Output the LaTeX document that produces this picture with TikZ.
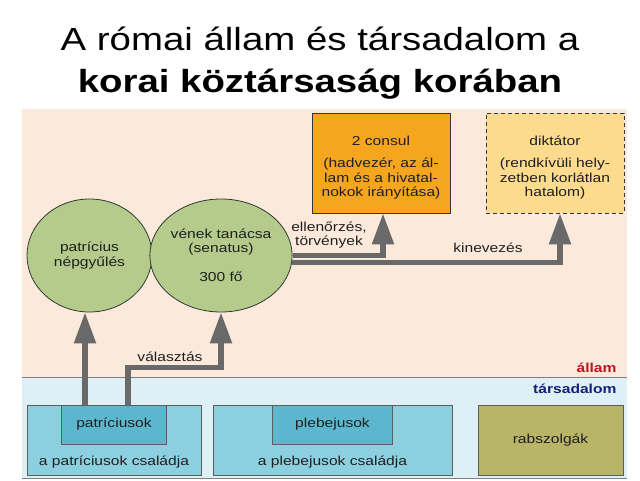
\documentclass[tikz,border=0pt]{standalone}
\usepackage{fontspec}
\setmainfont[FakeStretch=1.2]{Liberation Sans}
\usepackage{tikz}
\usetikzlibrary{positioning,calc,arrows.meta,shapes.geometric}

\definecolor{barack}{RGB}{251,234,219}
\definecolor{egkek}{RGB}{222,240,246}
\definecolor{zold}{RGB}{180,203,140}
\definecolor{narancs}{RGB}{246,166,30}
\definecolor{sarga}{RGB}{253,219,142}
\definecolor{kekkulso}{RGB}{140,207,222}
\definecolor{kekbelso}{RGB}{92,183,206}
\definecolor{oliva}{RGB}{184,181,104}
\definecolor{nyilszurke}{RGB}{105,105,105}
\definecolor{keret}{RGB}{50,55,50}
\definecolor{allampiros}{RGB}{190,20,30}
\definecolor{tarskek}{RGB}{25,30,120}

\begin{document}
\begin{tikzpicture}[x=1pt,y=-1pt,
  szoveg/.style={font=\fontsize{13}{14.5}\selectfont, text=black!88, align=center},
  cim/.style={font=\fontsize{32}{40}\selectfont, anchor=base},
  kor/.style={szoveg, ellipse, draw=keret, fill=zold, line width=0.8pt,
    minimum width=125, minimum height=113, inner sep=0pt},
  doboz/.style={szoveg, draw=keret, line width=0.8pt, minimum width=138, minimum height=100},
  csaladdoboz/.style={draw=keret!80, fill=kekkulso, line width=0.8pt, minimum height=70},
  tagdoboz/.style={szoveg, draw=keret!80, fill=kekbelso, line width=0.8pt, minimum height=39, anchor=north},
  cso/.style={draw=nyilszurke, line width=5.5pt, -{Triangle[width=21pt,length=31pt]}}
]
\useasboundingbox (0,0) rectangle (640,480);

% hatter: allam es tarsadalom
\fill[barack] (22,109) rectangle (627,377);
\fill[egkek] (22,377) rectangle (627,478);
\draw[gray, line width=1pt] (22,377) -- (627,377);
\draw[gray, line width=1pt] (22,478) -- (627,478);

% cim
\node[cim] (cim1) at (320,50) {A római állam és társadalom a};
\node[cim, font=\bfseries\fontsize{32}{40}\selectfont] (cim2) at (320,92) {korai köztársaság korában};

% allam
\node[kor] (nepgyules) at (89.5,255.5) {patrícius\\népgyűlés};
\node[kor] (senatus) at (221,255.5) {vének tanácsa\\(senatus)\\[14.5pt]300 fő};
\node[doboz, fill=narancs] (consul) at (381,163)
    {\rule{0pt}{19pt}2 consul\\[8pt](hadvezér, az ál-\\lam és a hivatal-\\nokok irányítása)};
\node[doboz, fill=sarga, dash pattern=on 4pt off 3pt] (diktator) at (555,163)
    {\rule{0pt}{19pt}diktátor\\[8pt](rendkívüli hely-\\zetben korlátlan\\hatalom)};

% tarsadalom
\foreach \nev/\x/\w/\wb/\tag/\csal in {P/114/174/105/patríciusok/a patríciusok családja,
                                      L/332.5/239/120/plebejusok/a plebejusok családja} {
    \node[csaladdoboz, minimum width=\w] (csalad\nev) at (\x,440) {};
    \node[tagdoboz, minimum width=\wb] (tag\nev) at (csalad\nev.north) {\tag};
    \node[szoveg] (csaladnev\nev) at ($(csalad\nev.south)+(0,-13)$) {\csal};
}
\node[szoveg, draw=keret!80, fill=oliva, line width=0.8pt, minimum width=145, minimum height=70]
    (rabszolgak) at (550.5,440) {rabszolgák};

\node[font=\bfseries\fontsize{13}{14}\selectfont, text=allampiros, anchor=east] (allam) at (620,368) {állam};
\node[font=\bfseries\fontsize{13}{14}\selectfont, text=tarskek, anchor=east] (tarsadalom) at (620,389) {társadalom};

% nyilak
\coordinate (p1) at ($(tagP.north)+(-29,0)$);
\coordinate (p2) at ($(tagP.north)+(14,0)$);
\draw[cso] (p1) -- (p1 |- nepgyules.south);
\draw[cso] (p2) -- ++(0,-37) -| (senatus.south);
\draw[cso] (senatus.east) -| ($(consul.south)+(2,0)$);
\draw[cso] ($(senatus.east)+(-0.5,7)$) -| ($(diktator.south)+(5,0)$);

% feliratok
\node[szoveg] (valasztas) at (170,357) {választás};
\node[szoveg] (ellenorzes) at (329,235) {ellenőrzés,\\törvények};
\node[szoveg] (kinevezes) at (488,248) {kinevezés};
\end{tikzpicture}
\end{document}
